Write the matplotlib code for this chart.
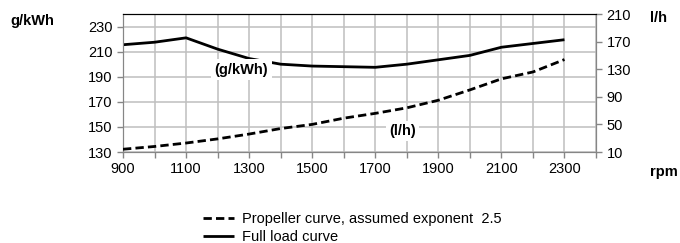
import matplotlib
matplotlib.use('Agg')
import matplotlib.pyplot as plt

plt.rcParams['font.family'] = ['Liberation Sans', 'DejaVu Sans']

# rpm points
rpm = [900, 1000, 1100, 1200, 1300, 1400, 1500, 1600, 1700, 1800, 1900, 2000, 2100, 2200, 2300]
# full load specific consumption (g/kWh, left axis)
full_load = [215.5, 217.5, 221, 212, 204.5, 200, 198.5, 198, 197.5, 200, 203.5, 207, 213.5, 216.5, 219.5]
# propeller curve consumption (l/h, right axis)
propeller = [14, 18, 23, 29, 36, 44, 50, 59, 66, 74, 85, 100, 116, 126, 144]

xticks = list(range(900, 2401, 100))
xlabels = [str(t) if (t - 900) % 200 == 0 and t < 2400 else '' for t in xticks]
left_ticks = [130, 150, 170, 190, 210, 230]
right_ticks = [10, 50, 90, 130, 170, 210]

grid_c = '#bfbfbf'
spine_c = '#868686'
fs = 10.5

fig = plt.figure(figsize=(6.8, 2.43), dpi=100)
ax = fig.add_axes([123/680, 1-152/243, (596-123)/680, (152-14)/243])
ax2 = ax.twinx()

l1, = ax.plot(rpm, full_load, color='black', lw=2, solid_capstyle='butt', zorder=3)
l2, = ax2.plot(rpm, propeller, color='black', lw=2, ls=(0, (3, 1.5)), zorder=3)

ax.set_xlim(900, 2400)
ax.set_ylim(130, 240)
ax2.set_ylim(10, 210)
ax.set_xticks(xticks)
ax.set_xticklabels(xlabels)
ax.set_yticks(left_ticks)
ax2.set_yticks(right_ticks)
ax.grid(True, color=grid_c, lw=1.1)
ax.set_axisbelow(True)

for a in (ax, ax2):
    for s in ('left', 'right', 'bottom'):
        a.spines[s].set_color(spine_c)
    a.spines['top'].set_color('black')
    a.tick_params(colors=spine_c, labelcolor='black', labelsize=fs, length=4, width=1)

ax.text(1275, 195.5, '(g/kWh)', fontsize=fs, fontweight='bold', ha='center', va='center',
        bbox=dict(facecolor='white', edgecolor='none', pad=2.5), zorder=4)
ax2.text(1786, 40.5, '(l/h)', fontsize=fs, fontweight='bold', ha='center', va='center',
         bbox=dict(facecolor='white', edgecolor='none', pad=2), zorder=4)

fig.text(10/680, 1-21/243, 'g/kWh', fontsize=fs, fontweight='bold', ha='left', va='center')
fig.text(650/680, 1-18/243, 'l/h', fontsize=fs, fontweight='bold', ha='left', va='center')
fig.text(650/680, 1-172/243, 'rpm', fontsize=fs, fontweight='bold', ha='left', va='center')

fig.legend([l2, l1], ['Propeller curve, assumed exponent  2.5', 'Full load curve'],
           loc='upper left', bbox_to_anchor=(203/680, 1-212/243), frameon=False,
           fontsize=fs, handlelength=2.1, handletextpad=0.55, labelspacing=0.25,
           borderpad=0, borderaxespad=0)

fig.savefig('out.png', dpi=100)
